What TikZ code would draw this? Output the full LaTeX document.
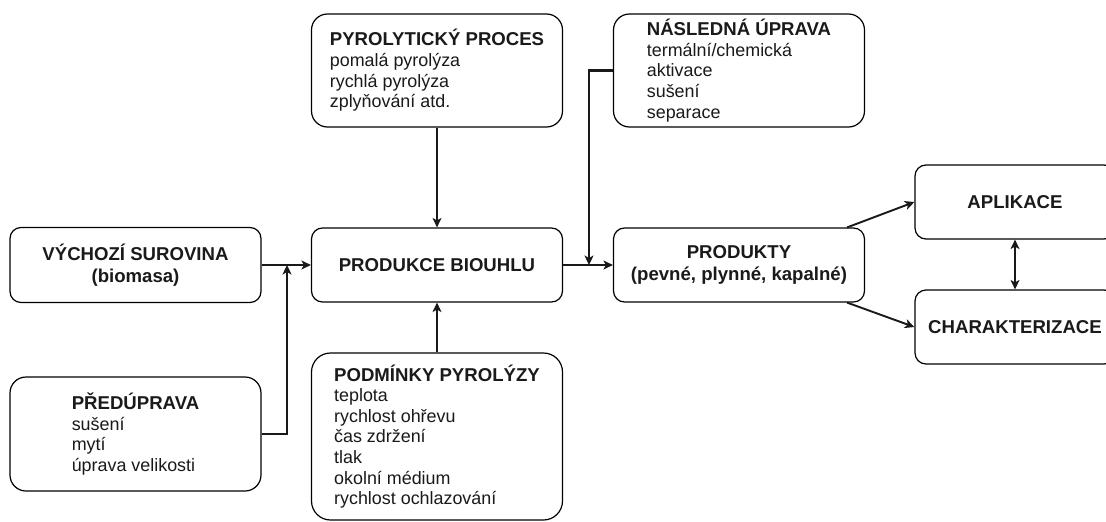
\documentclass[tikz,border=0pt]{standalone}
\usepackage{fontspec}
\setmainfont{Liberation Sans}
\usetikzlibrary{arrows.meta,calc}
\definecolor{txt}{HTML}{1A1A1A}
\newcommand{\ttl}[1]{{\bfseries\fontsize{18.6}{22}\selectfont #1}}
\tikzset{
  box/.style={draw=black, line width=1.2pt, fill=white, minimum width=251pt, text=txt,
              inner sep=0pt, align=left, font=\fontsize{17.9}{20.6}\selectfont},
  cbox/.style={box, align=center, font=\bfseries\fontsize{18.6}{22.5}\selectfont},
  conn/.style={line width=1.2pt, draw=black!90, -{Stealth[length=9.5pt,width=9pt,inset=2.5pt]}},
  thickconn/.style={conn, line width=2.3pt},
}
\begin{document}
\begin{tikzpicture}[x=1pt,y=-1pt]
\clip (0,0) rectangle (1106,522);
\fill[white] (0,0) rectangle (1106,522);

\node[cbox, minimum height=75pt, rounded corners=11pt] (vych) at (135.5,265) {VÝCHOZÍ SUROVINA\\(biomasa)};
\node[box, minimum height=114pt, rounded corners=16pt] (pred) at (135.5,434)
  {\ttl{PŘEDÚPRAVA}\\sušení\\mytí\\úprava velikosti};
\node[cbox, minimum height=74pt, rounded corners=11pt] (prod) at (437,265) {PRODUKCE BIOUHLU};
\node[box, minimum height=113pt, rounded corners=16pt] (pyro) at (437,70.5)
  {\ttl{PYROLYTICKÝ PROCES}\\pomalá pyrolýza\\rychlá pyrolýza\\zplyňování atd.};
\node[box, minimum height=167pt, rounded corners=19pt] (podm) at (437,436.5)
  {\ttl{PODMÍNKY PYROLÝZY}\\teplota\\rychlost ohřevu\\čas zdržení\\tlak\\okolní médium\\rychlost ochlazování};
\node[box, minimum height=113pt, rounded corners=16pt] (nasl) at (739,70.5)
  {\ttl{NÁSLEDNÁ ÚPRAVA}\\termální/chemická\\aktivace\\sušení\\separace};
\node[cbox, minimum height=74pt, rounded corners=11pt] (produkty) at (739,265) {PRODUKTY\\(pevné, plynné, kapalné)};
\node[cbox, minimum width=200pt, minimum height=74pt, rounded corners=11pt] (apl) at (1015,202) {APLIKACE};
\node[cbox, minimum width=200pt, minimum height=74pt, rounded corners=11pt] (char) at (1015,327) {CHARAKTERIZACE};

\coordinate (j1) at (287,265);
\coordinate (j2) at (589,265);

\draw[conn] (vych.east) -- (prod.west);
\draw[thickconn] (pred.east) -| (j1);
\draw[conn] (pyro.south) -- (prod.north);
\draw[conn] (podm.north) -- (prod.south);
\draw[conn] (prod.east) -- (produkty.west);
\draw[thickconn] (nasl.west) -| (j2);
\draw[conn, line width=1.9pt] ($(produkty.north east)+(-18,0)$) -- (apl.west);
\draw[conn, line width=1.9pt] ($(produkty.south east)+(-18,0)$) -- (char.west);
\draw[conn, {Stealth[length=9.5pt,width=9pt,inset=2.5pt]}-{Stealth[length=9.5pt,width=9pt,inset=2.5pt]}] (apl.south) -- (char.north);
\end{tikzpicture}
\end{document}
